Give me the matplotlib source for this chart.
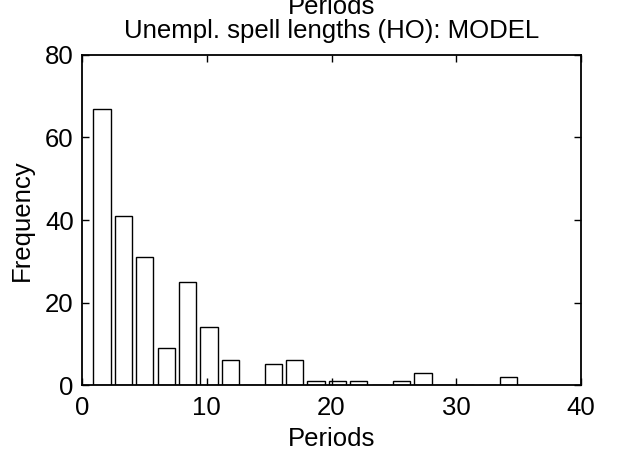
import numpy as np
import matplotlib
matplotlib.use("Agg")
import matplotlib.pyplot as plt

plt.rcParams['font.family'] = ['Liberation Sans', 'DejaVu Sans']

# Histogram (20 bins) of unemployment spell lengths
bin_centers = np.linspace(1.6, 34.2, 20)
counts = [67, 41, 31, 9, 25, 14, 6, 0, 5, 6, 1, 1, 1, 0, 1, 3, 0, 0, 0, 2]
xticks = [0, 10, 20, 30, 40]
yticks = [0, 20, 40, 60, 80]

W, H = 621, 465
fig = plt.figure(figsize=(W / 100, H / 100), dpi=100)
ax = fig.add_axes([82 / W, 1 - 385 / H, (581 - 82) / W, (385 - 55) / H])

width = (bin_centers[1] - bin_centers[0]) * 0.8
ax.bar(bin_centers, counts, width=width, facecolor='white', edgecolor='black',
       linewidth=1.0)

ax.set_xlim(0, 40)
ax.set_ylim(0, 80)
ax.set_xticks(xticks)
ax.set_yticks(yticks)
fs = 18.5
ax.tick_params(direction='in', top=True, right=True, length=5, width=1.0,
               labelsize=fs)
ax.tick_params(axis='x', pad=8)
ax.tick_params(axis='y', pad=6)
for s in ax.spines.values():
    s.set_linewidth(1.3)

ax.set_xlabel('Periods', fontsize=fs, labelpad=5)
ax.set_ylabel('Frequency', fontsize=fs, labelpad=8)

cx = (82 + 581) / 2 / W
fig.text(cx, 1 - 14 / H, 'Periods', ha='center', va='baseline', fontsize=fs)
fig.text(cx, 1 - 38 / H, 'Unempl. spell lengths (HO): MODEL', ha='center',
         va='baseline', fontsize=fs)

fig.savefig('out.png', dpi=100)
